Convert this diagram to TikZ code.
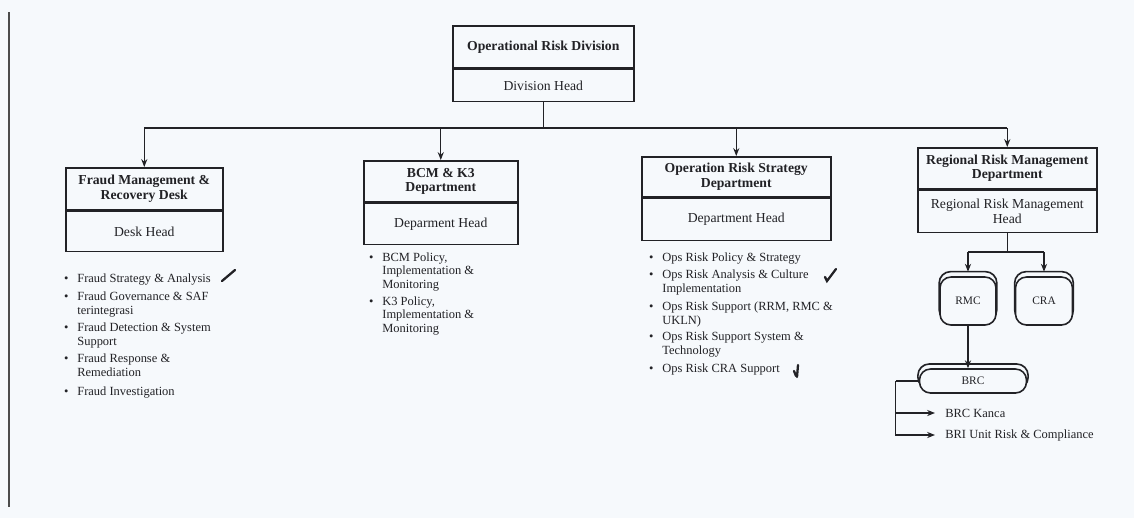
\documentclass[tikz,border=0pt]{standalone}
\usepackage{fontspec}
\setmainfont{Liberation Serif}
\usepackage{tikz}
\usetikzlibrary{positioning}
\usetikzlibrary{arrows.meta, shadows}

\definecolor{paper}{RGB}{246,249,252}
\definecolor{inkgray}{RGB}{34,34,38}
\newcommand{\dutybullet}{\llap{\textbullet\hspace{5pt}}}

\begin{document}
\begin{tikzpicture}[x=0.02cm,y=-0.02cm,
  ink/.style={draw=inkgray,line width=0.9pt},
  unittitle/.style={ink,rectangle,font=\fontsize{7.8}{8.4}\selectfont\bfseries,align=center,text=inkgray,inner sep=1pt},
  unithead/.style={ink,rectangle,font=\fontsize{7.8}{8.4}\selectfont,align=center,text=inkgray,inner sep=1pt},
  duty/.style={font=\fontsize{7.1}{7.6}\selectfont,align=left,text=inkgray,anchor=base west,inner sep=0pt},
  office/.style={ink,rounded corners=0.22cm,fill=paper,font=\fontsize{6.5}{7}\selectfont,text=inkgray,
    copy shadow={shadow xshift=0pt,shadow yshift=0.09cm,shadow scale=1.03,draw=inkgray,fill=paper,line width=0.9pt}},
  link/.style={draw=inkgray,line width=0.7pt},
  feed/.style={link,-{Stealth[length=4.5pt,width=3.5pt]}},
  pen/.style={draw=inkgray,line width=1.3pt,line cap=round}]
\useasboundingbox (0,0) rectangle (1134,518);
\fill[paper] (0,0) rectangle (1134,518);
\draw[gray!60!black,line width=1.1pt] (9,12) -- (9,507);

% division
\node[unittitle,minimum width=3.62cm,minimum height=0.84cm,anchor=north west] (ord) at (452,25) {Operational Risk Division};
\node[unithead,minimum width=3.62cm,minimum height=0.64cm,below=0pt of ord] (ordhead) {Division Head};

% departments
\node[unittitle,minimum width=3.14cm,minimum height=0.84cm,anchor=north west] (fmr) at (65,167) {Fraud Management \&\\Recovery Desk};
\node[unithead,minimum width=3.14cm,minimum height=0.80cm,below=0pt of fmr] (fmrhead) {Desk Head};

\node[unittitle,minimum width=3.08cm,minimum height=0.82cm,anchor=north west] (bcm) at (363,160) {BCM \& K3\\Department};
\node[unithead,minimum width=3.08cm,minimum height=0.82cm,below=0pt of bcm] (bcmhead) {Deparment Head};

\node[unittitle,minimum width=3.78cm,minimum height=0.80cm,anchor=north west] (ors) at (641,156) {Operation Risk Strategy\\Department};
\node[unithead,minimum width=3.78cm,minimum height=0.84cm,below=0pt of ors] (orshead) {Department Head};

\node[unittitle,minimum width=3.58cm,minimum height=0.82cm,anchor=north west] (rrm) at (917,147) {Regional Risk Management\\Department};
\node[unithead,minimum width=3.58cm,minimum height=0.84cm,below=0pt of rrm] (rrmhead) {Regional Risk Management\\Head};

\coordinate (bus) at (0,128);
\draw[link] (ordhead.south) -- (ordhead.south |- bus);
\draw[link] (fmr.north |- bus) -- (rrm.north |- bus);
\foreach \unit in {fmr,bcm,ors,rrm}
  \draw[feed] (\unit.north |- bus) -- (\unit.north);

% duties (base = last line)
\node[duty] (fmr1) at (77,282) {\dutybullet Fraud Strategy \& Analysis};
\node[duty] (fmr2) at (77,314) {\dutybullet Fraud Governance \& SAF\\terintegrasi};
\node[duty] (fmr3) at (77,345) {\dutybullet Fraud Detection \& System\\Support};
\node[duty] (fmr4) at (77,376) {\dutybullet Fraud Response \&\\Remediation};
\node[duty] (fmr5) at (77,395) {\dutybullet Fraud Investigation};

\node[duty] (bcm1) at (382,288) {\dutybullet BCM Policy,\\Implementation \&\\Monitoring};
\node[duty] (bcm2) at (382,332) {\dutybullet K3 Policy,\\Implementation \&\\Monitoring};

\node[duty] (ors1) at (662,261) {\dutybullet Ops Risk Policy \& Strategy};
\node[duty] (ors2) at (662,292) {\dutybullet Ops Risk Analysis \& Culture\\Implementation};
\node[duty] (ors3) at (662,324) {\dutybullet Ops Risk Support (RRM, RMC \&\\UKLN)};
\node[duty] (ors4) at (662,354) {\dutybullet Ops Risk Support System \&\\Technology};
\node[duty] (ors5) at (662,372) {\dutybullet Ops Risk CRA Support};

% ticks
\draw[pen] (222,281) -- (235,270);
\draw[pen] (825,277) -- (827,281) -- (836,269);
\draw[pen] (798,365) -- (797,377);
\draw[pen] (794,371) -- (796,376);

% regional offices
\node[office,minimum width=1.12cm,minimum height=0.96cm] (rmc) at (968,301) {RMC};
\node[office,minimum width=1.14cm,minimum height=0.96cm] (cra) at (1044,301) {CRA};
\node[office,minimum width=2.14cm,minimum height=0.48cm] (brc) at (973,381) {BRC};

\coordinate (rrmbus) at (0,252);
\draw[link] (rrmhead.south) -- (rrmhead.south |- rrmbus);
\draw[link] (rmc.north |- rrmbus) -- (cra.north |- rrmbus);
\draw[feed] (rmc.north |- rrmbus) -- ([yshift=0.09cm]rmc.north);
\draw[feed] (cra.north |- rrmbus) -- ([yshift=0.09cm]cra.north);
\draw[feed] (rmc.south) -- (rmc.south |- brc.north);

\node[duty,anchor=west,inner xsep=0.2cm] (kanca) at (935,413) {BRC Kanca};
\node[duty,anchor=west,inner xsep=0.2cm] (bri) at (935,435) {BRI Unit Risk \& Compliance};
\draw[link] (brc.west) -- ++(-23,0) coordinate (fork);
\draw[feed] (fork) |- (kanca.west);
\draw[feed] (fork) |- (bri.west);

\end{tikzpicture}
\end{document}
